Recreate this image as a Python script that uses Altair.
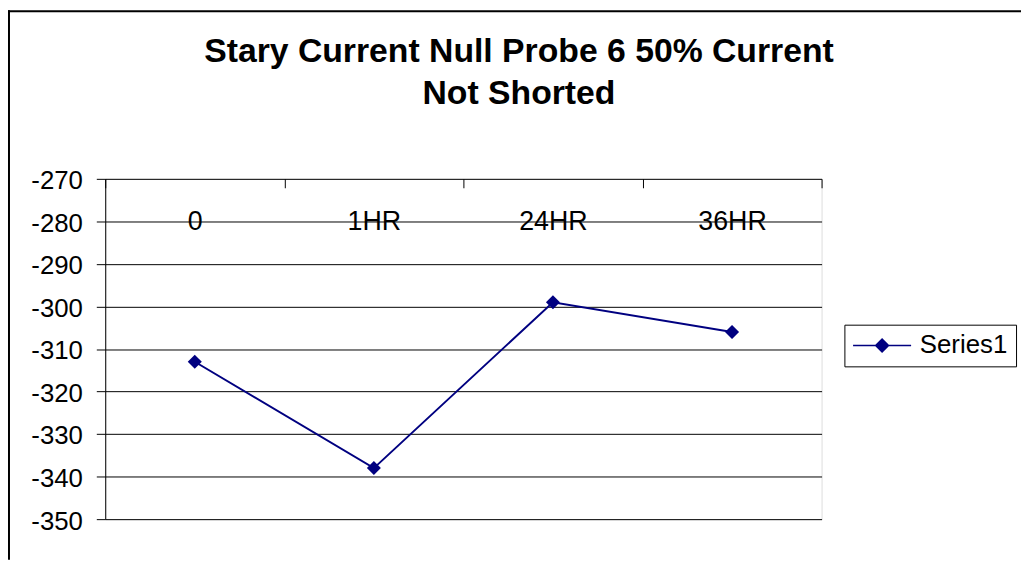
import json
import altair as alt
import pandas as pd

categories = ["0", "1HR", "24HR", "36HR"]
values = [-313, -338, -299, -306]
series_name = "Series1"
y_ticks = [-350, -340, -330, -320, -310, -300, -290, -280, -270]
title_lines = ["Stary Current Null Probe 6 50% Current", "Not Shorted"]

df = pd.DataFrame({
    "idx": list(range(len(categories))),
    "category": categories,
    "value": values,
    "series": [series_name] * len(categories),
})

FONT = "Liberation Sans"
NAVY = "#000080"
W, H = 722, 343

x_vals = []
for i in range(len(categories)):
    x_vals += [i - 0.5, i]
x_vals.append(len(categories) - 0.5)

x_enc = alt.X(
    "idx:Q",
    scale=alt.Scale(domain=[-0.5, len(categories) - 0.5], nice=False, zero=False),
    axis=alt.Axis(
        orient="bottom", offset=-H, values=x_vals,
        labelExpr="datum.value % 1 === 0 ? " + json.dumps(categories) + "[datum.value] : ''",
        tickSize=9, tickColor="black", tickWidth=1,
        tickOpacity={"condition": {"test": "datum.value % 1 === 0", "value": 0}, "value": 1},
        domain=False, grid=False, title=None,
        labelBaseline="middle", labelPadding=34, labelFontSize=27, labelColor="black",
        labelFont=FONT, labelFlush=False, labelOverlap=False,
    ),
)
y_enc = alt.Y(
    "value:Q",
    scale=alt.Scale(domain=[-350, -270], nice=False, zero=False),
    axis=alt.Axis(
        values=y_ticks, grid=True, gridColor="black", gridWidth=1,
        tickSize=9, tickColor="black", domainColor="black", domainWidth=1,
        labelExpr="'' + datum.value",
        labelFontSize=26, labelPadding=14, labelColor="black", labelFont=FONT,
        labelOffset=2, title=None, labelOverlap=False, labelFlush=False,
    ),
)

one = pd.DataFrame({"a": [0]})
border_top = alt.Chart(one).mark_rule(color="black", strokeWidth=2).encode(
    x=alt.value(-98), x2=alt.value(923), y=alt.value(-169)
)
border_left = alt.Chart(one).mark_rule(color="black", strokeWidth=2).encode(
    x=alt.value(-97), y=alt.value(-170), y2=alt.value(384)
)

line = alt.Chart(df).mark_line(color=NAVY, strokeWidth=2).encode(x=x_enc, y=y_enc)
points = alt.Chart(df).mark_point(shape="diamond", filled=True, size=200, opacity=1).encode(
    x=x_enc, y=y_enc,
    color=alt.Color(
        "series:N",
        scale=alt.Scale(range=[NAVY]),
        legend=alt.Legend(
            title=None, orient="none", legendX=745, legendY=147,
            symbolType="M-4.5,0H4.5M-1,0L0,-1L1,0L0,1Z",
            symbolSize=169, symbolFillColor=NAVY, symbolStrokeColor=NAVY,
            symbolStrokeWidth=1.5, symbolOffset=17, labelOffset=25,
            labelFontSize=26, labelFont=FONT, labelColor="black",
            strokeColor="black", fillColor="white", padding=8,
        ),
    ),
)

chart = alt.layer(border_top, border_left, line, points).properties(
    width=W, height=H,
    autosize=alt.AutoSizeParams(type="none"),
    padding={"left": 98, "top": 170, "right": 201, "bottom": 41},
    title=alt.Title(
        title_lines, fontSize=34, font=FONT, fontWeight="bold", color="black",
        anchor="middle", frame="group", dx=56, lineHeight=43, offset=-103,
    ),
).configure_view(
    fill="#C0C0C0", stroke="#808080", strokeWidth=1
).configure(background="white")

chart.save("out.html", embed_options={"renderer": "svg", "actions": False})
